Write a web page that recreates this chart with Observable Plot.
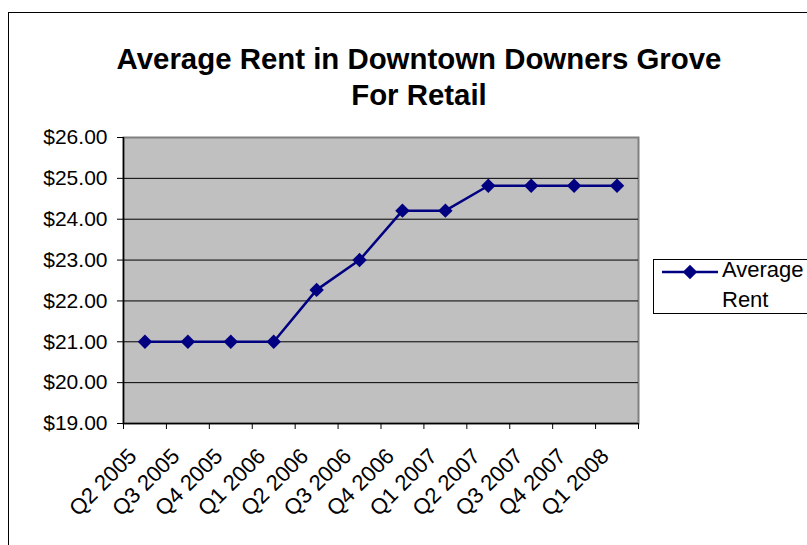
<!DOCTYPE html>
<html>
<head>
<meta charset="utf-8">
<script src="https://cdn.jsdelivr.net/npm/d3@7"></script>
<script src="https://cdn.jsdelivr.net/npm/@observablehq/plot@0.6"></script>
<style>
  html, body { margin: 0; padding: 0; background: #fff; overflow: hidden; }
  #wrap { position: relative; width: 807px; height: 545px; overflow: hidden; font-family: "Liberation Sans", Arial, sans-serif; }
  #chart { position: absolute; left: 0; top: 0; }
  #border { position: absolute; left: 8px; top: 12px; width: 1000px; height: 1000px; border-left: 1px solid #000; border-top: 1px solid #000; }
  #title { position: absolute; left: 0; top: 41px; width: 838px; text-align: center; font-weight: bold; font-size: 29.4px; line-height: 36px; color: #000; }
  #legend { position: absolute; left: 653px; top: 259px; width: 300px; height: 53px; border: 1px solid #000; background: #fff; }
  #legtext { position: absolute; left: 722px; top: 255px; font-size: 22px; line-height: 30px; color: #000; }
  #legsym { position: absolute; left: 654px; top: 260px; }
</style>
</head>
<body>
<div id="wrap">
  <div id="chart"></div>
  <div id="border"></div>
  <div id="title">Average Rent in Downtown Downers Grove<br>For Retail</div>
  <div id="legend"></div>
  <svg id="legsym" width="70" height="30"></svg>
  <div id="legtext">Average<br>Rent</div>
</div>
<script>
const quarters = ["Q2 2005","Q3 2005","Q4 2005","Q1 2006","Q2 2006","Q3 2006","Q4 2006","Q1 2007","Q2 2007","Q3 2007","Q4 2007","Q1 2008"];
const rents = [21.00, 21.00, 21.00, 21.00, 22.27, 23.00, 24.21, 24.21, 24.82, 24.82, 24.82, 24.82];
const yTicks = [19, 20, 21, 22, 23, 24, 25, 26];
const gridLines = [20, 21, 22, 23, 24, 25];
const seriesName = "Average Rent";
const lineColor = "#000080";

const data = quarters.map((q, i) => ({quarter: q, pos: i + 0.5, rent: rents[i]}));
const boundaries = d3.range(quarters.length + 1);

const chart = Plot.plot({
  width: 807,
  height: 545,
  marginLeft: 123,
  marginRight: 169,
  marginTop: 137,
  marginBottom: 122,
  style: {fontFamily: "Liberation Sans, Arial, sans-serif", fontSize: "21px", background: "transparent", color: "#000"},
  x: {type: "linear", domain: [0, quarters.length], axis: null},
  y: {domain: [19, 26], axis: null},
  marks: [
    Plot.frame({fill: "#c0c0c0", stroke: "#808080", strokeWidth: 2}),
    Plot.ruleY(gridLines, {stroke: "#000", strokeWidth: 1}),
    Plot.ruleY([19], {stroke: "#000", strokeWidth: 1.5}),
    Plot.ruleX([0], {stroke: "#000", strokeWidth: 1.5}),
    Plot.axisY({ticks: yTicks, tickFormat: d => "$" + d.toFixed(2), tickSize: 6, tickPadding: 10, fontSize: 21, label: null}),
    Plot.axisX({ticks: boundaries, tickSize: 6, tickFormat: () => "", label: null}),
    Plot.text(data, {x: "pos", text: "quarter", frameAnchor: "bottom", rotate: -45, textAnchor: "end", dx: -7, dy: 34, fontSize: 22}),
    Plot.line(data, {x: "pos", y: "rent", stroke: lineColor, strokeWidth: 2.5}),
    Plot.dot(data, {x: "pos", y: "rent", symbol: "diamond2", r: 6.5, fill: lineColor, stroke: "none"})
  ]
});
document.getElementById("chart").appendChild(chart);

// legend symbol
const leg = d3.select("#legsym");
leg.append("line").attr("x1", 8).attr("x2", 64).attr("y1", 12).attr("y2", 12).attr("stroke", lineColor).attr("stroke-width", 2.5);
leg.append("path").attr("d", d3.symbol(d3.symbolDiamond2, Math.PI * 6.5 * 6.5)()).attr("transform", "translate(36,12)").attr("fill", lineColor);
</script>
</body>
</html>
